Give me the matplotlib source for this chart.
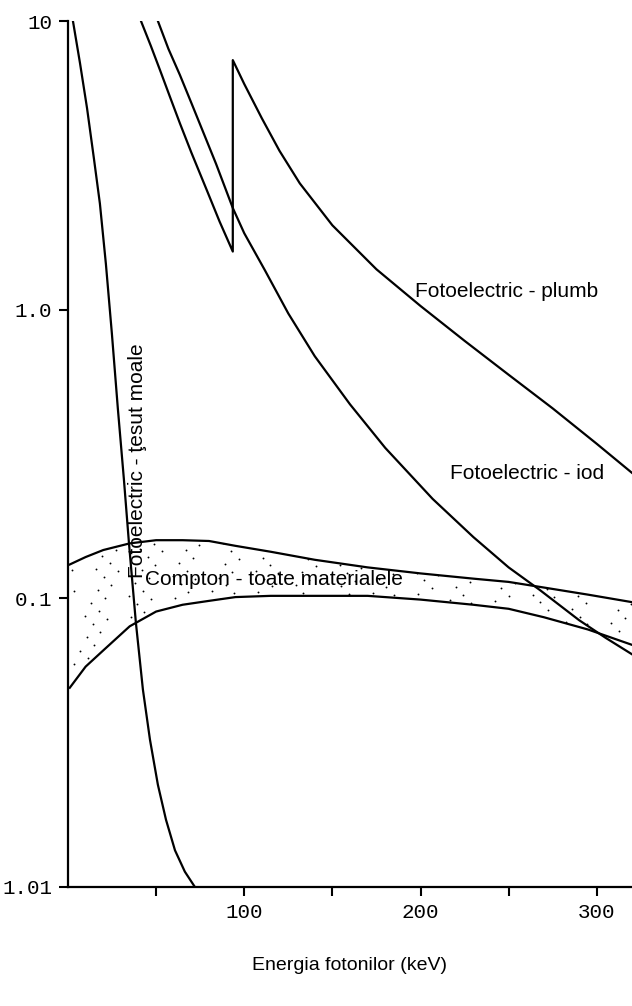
import numpy as np
import matplotlib
matplotlib.use("Agg")
import matplotlib.pyplot as plt

# energia fotonilor (keV) si valori
tesut_x = [2.8, 6.8, 10.8, 14.7, 18.1, 21.5, 24.9, 28.3, 31.7, 34.6, 38.5, 42.5,
           46.5, 51.0, 55.6, 60.7, 66.3, 72.0]
tesut_y = [10.0, 7.15, 4.99, 3.34, 2.33, 1.44, 0.826, 0.453, 0.259, 0.155, 0.0826,
           0.0483, 0.0324, 0.0226, 0.0171, 0.0134, 0.0113, 0.010]

plumb_x = [41.4, 47, 52.2, 58, 63.5, 70, 78.8, 86, 93.5, 93.5, 100, 110, 120, 131.5,
           150, 175, 200, 225, 250, 275, 300, 320]
plumb_y = [10.0, 8.2, 6.76, 5.43, 4.42, 3.5, 2.59, 2.02, 1.59, 7.32, 6.05, 4.6, 3.55,
           2.74, 1.96, 1.38, 1.03, 0.78, 0.595, 0.455, 0.343, 0.272]

iod_x = [51, 57, 63.5, 70, 77, 84, 93.5, 100, 111.7, 125, 140, 160, 180, 206.9, 230,
         250, 267.6, 290, 305, 320]
iod_y = [10.0, 8.0, 6.5, 5.2, 4.08, 3.2, 2.25, 1.84, 1.37, 0.97, 0.69, 0.47, 0.332,
         0.221, 0.163, 0.128, 0.107, 0.084, 0.073, 0.064]

compton_x = [1, 10, 20, 35, 50, 65, 80, 95, 115, 140, 170, 200, 230, 250, 270, 295, 320]
compton_sus = [0.131, 0.139, 0.147, 0.155, 0.159, 0.159, 0.158, 0.152, 0.145, 0.136,
               0.128, 0.122, 0.117, 0.114, 0.109, 0.103, 0.097]
compton_jos = [0.049, 0.058, 0.066, 0.080, 0.090, 0.095, 0.098, 0.101, 0.102, 0.102,
               0.102, 0.099, 0.095, 0.092, 0.086, 0.078, 0.069]

y_ticks = [0.01, 0.1, 1.0, 10]
y_labels = ["1.01", "0.1", "1.0", "10"]
x_ticks = [50, 100, 150, 200, 250, 300]
x_labels = ["", "100", "", "200", "", "300"]

fig = plt.figure(figsize=(6.32, 10.06), dpi=100)
ax = fig.add_axes([68 / 632, 119 / 1006, 1 - 68 / 632, 866 / 1006])

lw = 1.6
ax.plot(tesut_x, tesut_y, color="black", lw=lw)
ax.plot(plumb_x, plumb_y, color="black", lw=lw)
ax.plot(iod_x, iod_y, color="black", lw=lw)
ax.plot(compton_x, compton_sus, color="black", lw=lw)
ax.plot(compton_x, compton_jos, color="black", lw=lw)
banda = ax.fill_between(compton_x, compton_jos, compton_sus, facecolor="none",
                        linewidth=0)

ax.set_yscale("log")
ax.set_xlim(0, 320)
ax.set_ylim(0.01, 10)

# punctele din banda Compton (textura, secventa R2 deterministica)
n = 400
i = np.arange(1, n + 1)
u = (0.5 + i * 0.7548776662) % 1
v = (0.5 + i * 0.5698402910) % 1
px = 68 + u * 564
py = 700 - v * 170
pts = ax.transData.inverted().transform(np.column_stack([px, 1006 - py]))
sc = ax.scatter(pts[:, 0], pts[:, 1], s=1.8, color="black", linewidths=0)
sc.set_clip_path(banda.get_paths()[0], transform=ax.transData)

ax.set_yticks(y_ticks)
ax.set_yticklabels(y_labels)
ax.yaxis.set_minor_locator(matplotlib.ticker.NullLocator())
ax.set_xticks(x_ticks)
ax.set_xticklabels(x_labels)

for lab in ax.get_xticklabels() + ax.get_yticklabels():
    lab.set_family("Liberation Mono")
    lab.set_fontsize(15)
ax.tick_params(axis="both", direction="out", length=6.5, width=1.5, pad=5)

ax.spines["top"].set_visible(False)
ax.spines["right"].set_visible(False)
ax.spines["left"].set_linewidth(1.6)
ax.spines["bottom"].set_linewidth(1.6)

fs = 15
ax.text(196.7, 1.155, "Fotoelectric - plumb", fontsize=fs, family="Liberation Sans",
        ha="left", va="center")
ax.text(216.6, 0.27, "Fotoelectric - iod", fontsize=fs, family="Liberation Sans",
        ha="left", va="center")
ax.text(43.7, 0.116, "Compton - toate materialele", fontsize=fs, family="Liberation Sans",
        ha="left", va="center")
ax.text(39.5, 0.30, "Fotoelectric - ţesut moale", fontsize=fs, family="Liberation Sans",
        ha="center", va="center", rotation=90)

fig.text(350 / 632, 1 - 965 / 1006, "Energia fotonilor (keV)", fontsize=14,
         family="Liberation Sans", ha="center", va="center")

fig.savefig("out.png", dpi=100)
